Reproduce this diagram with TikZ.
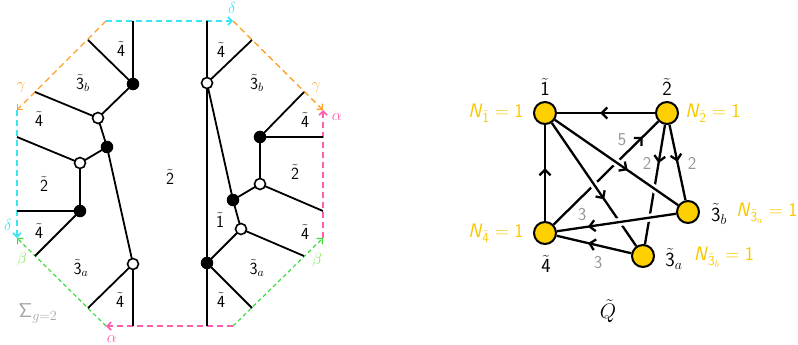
\RequirePackage{fix-cm}
\documentclass[tikz,border=0pt]{standalone}
\usetikzlibrary{arrows.meta,decorations.markings}
\definecolor{octcyan}{RGB}{60,228,245}
\definecolor{octorange}{RGB}{255,160,40}
\definecolor{octpink}{RGB}{255,95,175}
\definecolor{octgreen}{RGB}{60,220,60}
\definecolor{lblgreen}{RGB}{120,235,80}
\definecolor{lblorange}{RGB}{255,170,60}
\definecolor{nodeyellow}{RGB}{255,208,0}
\definecolor{labyellow}{RGB}{250,200,0}
\definecolor{numgray}{RGB}{150,150,150}
\definecolor{siggray}{RGB}{165,165,165}
\newcommand{\tl}[1]{\tilde{\mathsf{#1}}}
\begin{document}
\begin{tikzpicture}[x=1pt,y=-1pt,
  gedge/.style={line width=1.8pt},
  bdot/.style={circle,fill=black,draw=black,line width=1pt,inner sep=0pt,minimum size=11.5pt},
  wdot/.style={circle,fill=white,draw=black,line width=1.6pt,inner sep=0pt,minimum size=11pt},
  bside/.style={dash pattern=on 6pt off 4pt,line width=1.6pt,-{Straight Barb[length=4pt,width=8pt]}},
  gside/.style={dash pattern=on 4pt off 3pt,line width=1.2pt,-{Straight Barb[length=4pt,width=8pt]}},
  olab/.style={font=\fontsize{17}{19}\selectfont,inner sep=0pt},
  glab/.style={font=\fontsize{16}{18}\selectfont,inner sep=0pt},
  qnode/.style={circle,fill=nodeyellow,draw=black,line width=2pt,minimum size=22pt,inner sep=0pt},
  qlab/.style={font=\fontsize{20}{22}\selectfont,inner sep=0pt},
  nlab/.style={font=\fontsize{19.5}{22}\selectfont,text=labyellow,inner sep=0pt},
  numlab/.style={font=\fontsize{18}{20}\selectfont,text=numgray,inner sep=0pt},
  qedge/.style={line width=2.3pt},
  qcover/.style={draw=white,line width=8pt,shorten >=9pt,shorten <=9pt},
  marr/.style={postaction={decorate},decoration={markings,mark=at position #1 with {\arrow{Straight Barb[length=5.5pt,width=11pt]}}}}
]
\useasboundingbox (0,0) rectangle (798,345);

% ---------- octagon corners ----------
\coordinate (o1) at (106,21);
\coordinate (o2) at (233,21);
\coordinate (o3) at (323,110);
\coordinate (o4) at (323,238);
\coordinate (o5) at (233,326);
\coordinate (o6) at (106,326);
\coordinate (o7) at (17,238);
\coordinate (o8) at (17,110);

\draw[bside,octcyan] (o1) -- (o2);
\draw[bside,octcyan] (o8) -- (o7);
\draw[bside,octorange,line width=1.4pt] (o1) -- (o8);
\draw[bside,octorange,line width=1.4pt] (o2) -- (o3);
\draw[bside,octpink] (o4) -- (o3);
\draw[bside,octpink] (o5) -- (o6);
\draw[gside,octgreen] (o6) -- (o7);
\draw[gside,octgreen] (o5) -- (o4);

% side labels
\node[glab,text=octcyan] (ld1) at (232,8) {$\delta$};
\node[glab,text=octcyan] (ld2) at (8,225) {$\delta$};
\node[glab,text=lblorange] (lg1) at (316,88) {$\gamma$};
\node[glab,text=lblorange] (lg2) at (21,88) {$\gamma$};
\node[glab,text=octpink] (la1) at (337,117) {$\alpha$};
\node[glab,text=octpink] (la2) at (112,339) {$\alpha$};
\node[glab,text=lblgreen] (lb1) at (317,260) {$\beta$};
\node[glab,text=lblgreen] (lb2) at (22,259) {$\beta$};

% ---------- boundary points ----------
\coordinate (t1) at (133,21);
\coordinate (e1) at (88,40);
\coordinate (e2) at (35,92);
\coordinate (e3) at (17,137);
\coordinate (e4) at (17,211);
\coordinate (e5) at (35,256);
\coordinate (e6) at (88,308);
\coordinate (b1) at (133,326);
\coordinate (t2) at (207,21);
\coordinate (f1) at (252,40);
\coordinate (f2) at (304,92);
\coordinate (f3) at (323,137);
\coordinate (f4) at (323,211);
\coordinate (f5) at (304,256);
\coordinate (f6) at (252,308);
\coordinate (b2) at (207,326);

% ---------- vertices ----------
\coordinate (B1) at (133,84);
\coordinate (W1) at (98,118);
\coordinate (B2) at (107,147);
\coordinate (W2) at (80,163);
\coordinate (B3) at (80,211);
\coordinate (W3) at (133,264);
\coordinate (W4) at (207,83);
\coordinate (B4) at (207,263);
\coordinate (B5) at (233,200);
\coordinate (W5) at (260,184);
\coordinate (B6) at (260,137);
\coordinate (W6) at (241,229);

\draw[gedge] (t1) -- (B1) (B1) -- (e1) (B1) -- (W1) (W1) -- (e2) (W1) -- (B2)
  (B2) -- (W2) (W2) -- (e3) (W2) -- (B3) (B3) -- (e4) (B3) -- (e5)
  (B2) -- (W3) (W3) -- (e6) (W3) -- (b1);
\draw[gedge] (t2) -- (W4) (W4) -- (B4) (B4) -- (b2) (W4) -- (f1) (W4) -- (B5)
  (B5) -- (W5) (W5) -- (B6) (B6) -- (f3) (B6) -- (f2) (W5) -- (f4)
  (B5) -- (W6) (W6) -- (f5) (W6) -- (B4) (B4) -- (f6);

\foreach \p in {B1,B2,B3,B4,B5,B6} \node[bdot] (d\p) at (\p) {};
\foreach \p in {W1,W2,W3,W4,W5,W6} \node[wdot] (d\p) at (\p) {};

% face labels
\node[olab] (fl1) at (121,49) {$\tl{4}$};
\node[olab] (fl2) at (83,83) {$\tl{3}_b$};
\node[olab] (fl3) at (39,119) {$\tl{4}$};
\node[olab] (fl4) at (44,184) {$\tl{2}$};
\node[olab] (fl5) at (39,231) {$\tl{4}$};
\node[olab] (fl6) at (81,268) {$\tl{3}_a$};
\node[olab] (fl7) at (120,300) {$\tl{4}$};
\node[olab] (fl8) at (170,177) {$\tl{2}$};
\node[olab] (fr1) at (221,50) {$\tl{4}$};
\node[olab] (fr2) at (257,83) {$\tl{3}_b$};
\node[olab] (fr3) at (305,120) {$\tl{4}$};
\node[olab] (fr4) at (295,172) {$\tl{2}$};
\node[olab] (fr5) at (220,220) {$\tl{1}$};
\node[olab] (fr6) at (305,232) {$\tl{4}$};
\node[olab] (fr7) at (257,268) {$\tl{3}_a$};
\node[olab] (fr8) at (221,300) {$\tl{4}$};
\node[font=\fontsize{20}{22}\selectfont,text=siggray,inner sep=0pt] (sig) at (38,313) {$\mathsf{\Sigma}_{g=2}$};

% ---------- quiver ----------
\node[qnode] (q1) at (545,113) {};
\node[qnode] (q2) at (667,113) {};
\node[qnode] (q3b) at (688,212) {};
\node[qnode] (q3a) at (643,256) {};
\node[qnode] (q4) at (545,233) {};

\draw[qedge,marr=0.85] (q4) -- (q2);
\draw[qedge,marr=0.32] (q2) -- (q3a);
\draw[qcover] (q1) -- (q3a);
\draw[qedge,marr=0.62] (q1) -- (q3a);
\draw[qcover] (q1) -- (q3b);
\draw[qedge,marr=0.59] (q1) -- (q3b);
\draw[qcover] (q3b) -- (q4);
\draw[qedge,marr=0.74] (q3b) -- (q4);
\draw[qedge,marr=0.56] (q2) -- (q1);
\draw[qedge,marr=0.55] (q4) -- (q1);
\draw[qedge,marr=0.49] (q2) -- (q3b);
\draw[qedge,marr=0.58] (q3a) -- (q4);

\node[qlab] (l1) at (545,87) {$\tl{1}$};
\node[qlab] (l2) at (667,87) {$\tl{2}$};
\node[qlab] (l3b) at (719,214) {$\tl{3}_b$};
\node[qlab] (l3a) at (674,259) {$\tl{3}_a$};
\node[qlab] (l4) at (546,264) {$\tl{4}$};

\node[nlab] (n1) at (496,113) {$\textsf{\textit{N}}_{\tl{1}}=\mathsf{1}$};
\node[nlab] (n2) at (713,113) {$\textsf{\textit{N}}_{\tl{2}}=\mathsf{1}$};
\node[nlab] (n3b) at (767,213) {$\textsf{\textit{N}}_{\tl{3}_a}=\mathsf{1}$};
\node[nlab] (n3a) at (724,257) {$\textsf{\textit{N}}_{\tl{3}_b}=\mathsf{1}$};
\node[nlab] (n4) at (496,233) {$\textsf{\textit{N}}_{\tl{4}}=\mathsf{1}$};

\node[numlab] (m5) at (622,140) {\sffamily 5};
\node[numlab] (m2a) at (647,163) {\sffamily 2};
\node[numlab] (m2b) at (692,163) {\sffamily 2};
\node[numlab] (m3a) at (582,215) {\sffamily 3};
\node[numlab] (m3b) at (598,263) {\sffamily 3};

\node[font=\fontsize{21}{23}\selectfont,inner sep=0pt] (Q) at (608,311) {$\tilde{Q}$};
\end{tikzpicture}
\end{document}
